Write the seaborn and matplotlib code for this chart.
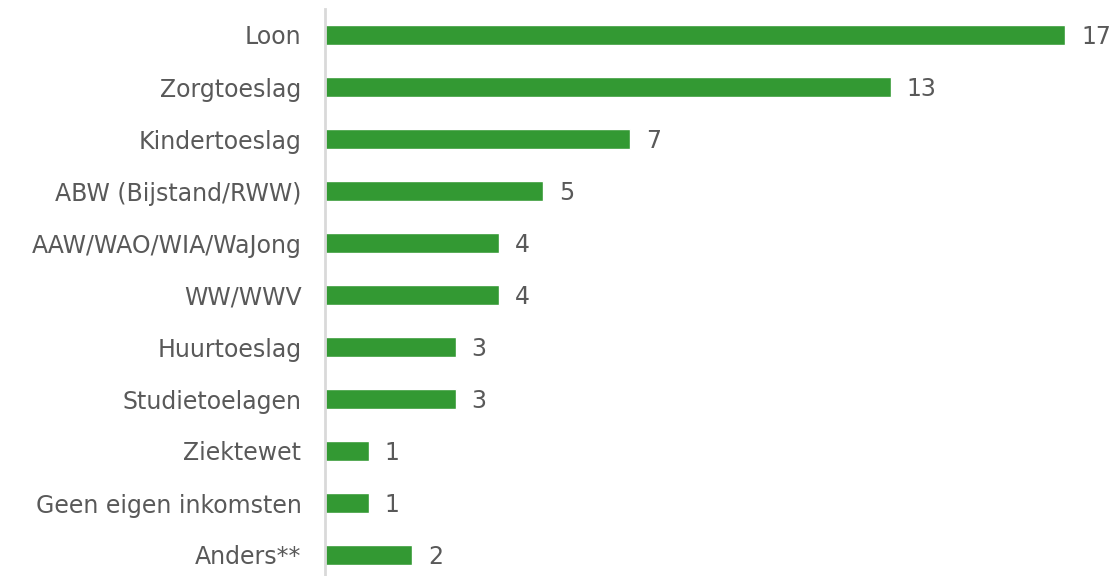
import numpy as np
import pandas as pd
import seaborn as sns
import matplotlib.pyplot as plt

# Income sources and counts
categories = ['Loon', 'Zorgtoeslag', 'Kindertoeslag', 'ABW (Bijstand/RWW)',
              'AAW/WAO/WIA/WaJong', 'WW/WWV', 'Huurtoeslag', 'Studietoelagen',
              'Ziektewet', 'Geen eigen inkomsten', 'Anders**']
counts = [17, 13, 7, 5, 4, 4, 3, 3, 1, 1, 2]

df = pd.DataFrame({'category': categories, 'count': counts})

sns.set_theme(style='white')
plt.rcParams['font.family'] = ['DejaVu Sans']

text_color = '#595959'
bar_color = '#339933'

fig = plt.figure(figsize=(11.15, 5.76), dpi=100)
ax = fig.add_axes([325 / 1115, -5 / 576, 790 / 1115, 572 / 576])

sns.barplot(data=df, x='count', y='category', orient='h', color=bar_color,
            width=0.37, saturation=1, ax=ax)

ax.set_xlim(0, 790 / 43.53)
ax.set_ylim(10.5, -0.5)
ax.set_xlabel('')
ax.set_ylabel('')
ax.set_xticks([])
ax.tick_params(axis='y', length=0, pad=17, labelsize=17, labelcolor=text_color)

for s in ['top', 'right', 'bottom']:
    ax.spines[s].set_visible(False)
ax.spines['left'].set_color('#d9d9d9')
ax.spines['left'].set_linewidth(2)

# Value labels at the end of each bar
for i, v in enumerate(counts):
    ax.annotate(str(v), xy=(v, i), xytext=(16, -2), textcoords='offset pixels',
                va='center', ha='left', fontsize=17, color=text_color)

fig.savefig('out.png', dpi=100)
plt.close(fig)
